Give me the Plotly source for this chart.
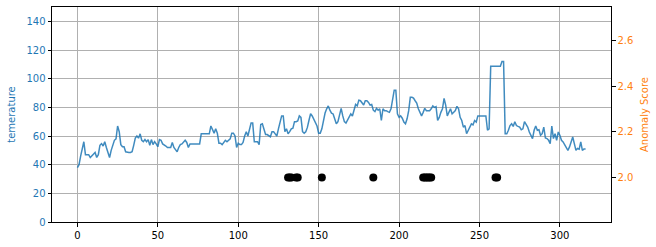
import plotly.graph_objects as go

temperature = [
    38, 40, 46, 51, 56, 47, 47, 47, 45, 46, 47, 48.5, 45, 47, 53.5, 54.7, 53, 56, 52, 49,
    45, 50, 54.5, 57, 58, 67, 63, 54, 52.5, 52.5, 49, 48.5, 48.5, 48.5, 49, 53.5, 58.5, 60, 58.5, 61.5,
    57, 56, 57.5, 56, 57.5, 53.5, 57.5, 54, 56, 54.5, 52.5, 57.5, 57, 54.5, 54, 53, 52, 52, 52, 55.5,
    52, 50.5, 49, 52, 54, 54.5, 56, 57, 55.5, 52, 54.5, 54.5, 54.5, 54.5, 54.5, 54.5, 54.5, 61.5, 61.5, 61.5,
    61.5, 61.5, 61.5, 67, 64, 62, 65, 62, 55, 55, 54, 56, 57, 56, 57, 58, 62, 62, 60, 52,
    55, 54, 54, 55.5, 60, 63, 60, 64, 69, 69, 56, 56, 56, 54, 68, 68.5, 64, 61, 61, 60,
    59.5, 63, 63, 61.5, 60, 65, 70, 74, 74, 63, 65, 61.5, 63, 65, 65.5, 70, 70, 70.5, 74, 73,
    63, 62, 63, 66, 71, 75.5, 74, 72, 70, 67, 62, 62, 65, 72, 76, 79, 81, 78, 76, 75.4,
    72, 68.5, 70, 76, 79.3, 74, 70, 69, 71, 74, 75.4, 74, 79, 82, 81, 85, 84.6, 83.4, 81.6, 84.6,
    84.6, 83.4, 81.6, 82, 78, 77, 79.3, 78, 79, 70.8, 79, 77.7, 77.7, 77, 76.5, 79, 85.7, 92, 92, 75.4,
    73, 74, 72.4, 69.7, 68.5, 72, 77.7, 87, 87, 86.4, 84.6, 83, 79, 76.5, 74, 76.5, 79.3, 77.7, 77.7, 77.7,
    79, 81, 80, 80.5, 70.8, 73, 76.5, 79, 86.2, 81.6, 74, 76.5, 79, 75.4, 76.5, 77.7, 80.7, 79, 73, 70.8,
    66.2, 67.3, 61.6, 64, 67.3, 68.5, 67.8, 70.8, 69.7, 74, 74, 74, 74, 74, 74, 64, 65, 108.7, 108.7, 108.7,
    108.7, 108.7, 108.7, 108.7, 112, 112, 61.6, 61.6, 64, 67.3, 68.5, 66.7, 70, 67.3, 66.7, 66.2, 64.4, 65, 70, 68.5,
    66.2, 62.8, 60.5, 58.2, 64, 67, 64, 64.4, 60.5, 61.6, 66.2, 58.6, 58.2, 57, 54.7, 67, 58.2, 61.6, 57, 62.8,
    60.5, 57, 55.9, 53.6, 51.3, 50, 52.4, 55.9, 59.3, 54.7, 50, 51.3, 50.8, 55.9, 50, 51, 51,
]
time_index = list(range(len(temperature)))

anomaly_index = [131, 132, 133, 136, 137, 152, 184, 215, 216, 217, 218, 219, 220, 260, 261]
anomaly_score = [2.0] * len(anomaly_index)

x_ticks = [0, 50, 100, 150, 200, 250, 300]
left_ticks = [0, 20, 40, 60, 80, 100, 120, 140]
right_ticks = [2.0, 2.2, 2.4, 2.6]

BLUE = "#1f77b4"
ORANGE = "#ff7f0e"
FONT = "DejaVu Sans"

fig = go.Figure()
fig.add_trace(go.Scatter(
    x=time_index, y=temperature, mode="lines",
    line=dict(color="rgba(31,119,180,0.85)", width=1.5),
    showlegend=False, yaxis="y",
))
fig.add_trace(go.Scatter(
    x=anomaly_index, y=anomaly_score, mode="markers",
    marker=dict(color="black", size=8),
    showlegend=False, yaxis="y2",
))

axis_common = dict(
    showline=True, linecolor="black", linewidth=1,
    ticks="outside", ticklen=3.5, tickcolor="black", tickwidth=1,
    zeroline=False,
)

fig.update_layout(
    width=656, height=247,
    margin=dict(l=52, r=45, t=6, b=23),
    paper_bgcolor="white", plot_bgcolor="white",
    font=dict(family=FONT, size=10, color="black"),
    xaxis=dict(
        range=[-15.8, 331.8], tickvals=x_ticks, mirror=True,
        showgrid=True, gridcolor="#b0b0b0", gridwidth=1,
        tickfont=dict(color="black", size=10),
        **axis_common,
    ),
    yaxis=dict(
        range=[0, 150], tickvals=left_ticks,
        showgrid=True, gridcolor="#b0b0b0", gridwidth=1,
        tickfont=dict(color=BLUE, size=10),
        title=dict(text="temerature", font=dict(color=BLUE, size=10), standoff=8),
        **axis_common,
    ),
    yaxis2=dict(
        range=[1.804, 2.749], tickvals=right_ticks, tickformat=".1f",
        overlaying="y", side="right", showgrid=False,
        tickfont=dict(color=ORANGE, size=10),
        title=dict(text="Anomaly Score", font=dict(color=ORANGE, size=10), standoff=8),
        **axis_common,
    ),
)

fig.write_html("out.html")
